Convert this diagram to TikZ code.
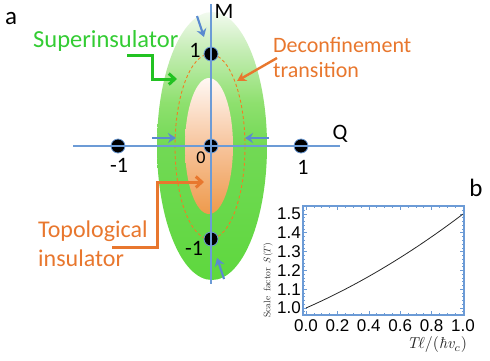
\documentclass[tikz,border=0pt]{standalone}
\usepackage{graphicx}
\usepackage{fontspec}
\setmainfont{Carlito}
\newfontfamily\arialf{Liberation Sans}
\newfontfamily\lmr{Latin Modern Roman}
\usetikzlibrary{arrows.meta,shapes.geometric}
\definecolor{axisblue}{HTML}{6C9BD6}
\definecolor{arrowblue}{HTML}{5A8AD0}
\definecolor{txtgreen}{HTML}{33CC33}
\definecolor{arrgreen}{HTML}{22C222}
\definecolor{myorange}{HTML}{E8772E}
\definecolor{dashorange}{HTML}{F07E22}
\definecolor{gA}{HTML}{F2FAEF}
\definecolor{gB}{HTML}{C6EDB6}
\definecolor{gC}{HTML}{8EE06E}
\definecolor{gD}{HTML}{72D955}
\definecolor{gE}{HTML}{5ED83E}
\definecolor{oA}{HTML}{FFF8F4}
\definecolor{oB}{HTML}{F7C49C}
\definecolor{oC}{HTML}{EE9A4C}
\pgfdeclareverticalshading{greensh}{100bp}{color(0bp)=(gE); color(25bp)=(gE); color(50bp)=(gD); color(58bp)=(gC); color(68bp)=(gB); color(75bp)=(gA); color(100bp)=(gA)}
\pgfdeclareverticalshading{orangesh}{100bp}{color(0bp)=(oC); color(25bp)=(oC); color(50bp)=(oB); color(75bp)=(oA); color(100bp)=(oA)}
\tikzset{
  dot/.style={circle,fill=black,draw=axisblue,line width=0.8pt,minimum size=14pt,inner sep=0pt},
  axisline/.style={draw=axisblue,line width=1.2pt},
  bluearrow/.style={draw=arrowblue,line width=2.2pt,-{Stealth[length=8pt,width=10pt]}},
  bentgreen/.style={draw=arrgreen,line width=3pt,-{Straight Barb[length=6pt,width=11pt]}},
  bentorange/.style={draw=myorange,line width=3pt,-{Straight Barb[length=6pt,width=11pt]}},
  straightorange/.style={draw=myorange,line width=2.4pt,-{Stealth[length=9pt,width=10pt]}},
  numlbl/.style={font=\fontsize{22}{24}\selectfont,inner sep=0pt},
  ticklbl/.style={font=\arialf\fontsize{17}{20}\selectfont,inner sep=0pt},
  frameblue/.style={draw=axisblue,line width=1.1pt}
}
\begin{document}
\begin{tikzpicture}[x=1pt,y=-1pt]
\useasboundingbox (0,0) rectangle (490,360);
% ellipses
\shade[shading=greensh] (212,146) ellipse (55 and 134);
\shade[shading=orangesh] (209,146) ellipse (24 and 68);
\draw[dashorange,line width=0.9pt,dash pattern=on 3pt off 2.5pt] (210,146.5) ellipse (35 and 92.5);
% dots
\node[dot] (p0) at (211,146) {};
\node[dot] (pt) at (211,54) {};
\node[dot] (pb) at (211,239) {};
\node[dot] (pl) at (118,146) {};
\node[dot] (pr) at (301,146) {};
% axes
\coordinate (qa) at (73,146);
\coordinate (qb) at (340,146);
\coordinate (ma) at (211,4);
\coordinate (mb) at (211,284);
\draw[axisline] (qa) -- (qb);
\draw[axisline] (ma) -- (mb);
\node[numlbl] (M) at (224,11) {M};
\node[numlbl] (Q) at (340,134) {Q};
% dot labels
\node[numlbl] (lt) at (195,50) {1};
\node[numlbl,font=\fontsize{18}{20}\selectfont] (l0) at (201,158) {0};
\node[numlbl] (ll) at (119,165) {-1};
\node[numlbl] (lr) at (303,167) {1};
\node[numlbl] (lb) at (194,248) {-1};
% blue arrows
\coordinate (ba1) at (197,16);  \coordinate (ba2) at (204,37);
\coordinate (bb1) at (152,138); \coordinate (bb2) at (176,138);
\coordinate (bc1) at (269,138); \coordinate (bc2) at (245,138);
\coordinate (bd1) at (224,279); \coordinate (bd2) at (217,258);
\draw[bluearrow] (ba1) -- (ba2);
\draw[bluearrow] (bb1) -- (bb2);
\draw[bluearrow] (bc1) -- (bc2);
\draw[bluearrow] (bd1) -- (bd2);
% panel letters
\node[inner sep=0pt,font=\fontsize{25}{27}\selectfont] (pa) at (11,19) {a};
\node[inner sep=0pt,font=\fontsize{25}{27}\selectfont] (pbl) at (476,188) {b};
% Superinsulator
\node[anchor=base west,inner sep=0pt,text=txtgreen,font=\fontsize{24.5}{26}\selectfont] (sup) at (33,47) {Superinsulator};
\coordinate (g1) at (127,55);
\coordinate (g2) at (177,79);
\draw[bentgreen] (g1) -- (152,55) -- (152,79) -- (g2);
% Deconfinement transition
\node[anchor=west,inner sep=0pt,text=myorange,align=left,font=\fontsize{22}{25}\selectfont] (dec) at (273,57) {Deconfinement\\transition};
\coordinate (o1) at (277,58);
\coordinate (o2) at (237,81);
\draw[straightorange] (o1) -- (o2);
% Topological insulator
\node[anchor=west,inner sep=0pt,text=myorange,align=left,font=\fontsize{24}{29}\selectfont] (top) at (38,244) {Topological\\insulator};
\coordinate (t1) at (112,247);
\coordinate (t2) at (204,182);
\draw[bentorange] (t1) -- (157,247) -- (157,182) -- (t2);
% plot panel b
\coordinate (fa) at (303,206);
\coordinate (fb) at (464,315);
\draw[frameblue] (fa) rectangle (fb);
\foreach \i in {0,...,20}{
  \pgfmathsetmacro{\xx}{306+157*\i/20}
  \pgfmathsetmacro{\tl}{ifthenelse(mod(\i,4)==0,4,2)}
  \draw[axisblue,line width=0.6pt] (\xx,315) -- ++(0,-\tl);
  \draw[axisblue,line width=0.6pt] (\xx,206) -- ++(0,\tl);
}
\foreach \i in {0,...,28}{
  \pgfmathsetmacro{\yy}{308-188*(\i*0.02-0.04)}
  \pgfmathsetmacro{\tl}{ifthenelse(mod(\i,5)==2,4,2)}
  \draw[axisblue,line width=0.6pt] (303,\yy) -- ++(\tl,0);
  \draw[axisblue,line width=0.6pt] (464,\yy) -- ++(-\tl,0);
}
\draw[black!85,line width=0.8pt] plot[domain=0:1,samples=60] ({306+157*\x},{308-188*(0.367*\x+0.133*\x*\x)});
\foreach \v/\t in {0/1.0,1/1.1,2/1.2,3/1.3,4/1.4,5/1.5}{
  \node[ticklbl,anchor=east] (yt\v) at (301,{308-18.8*\v}) {\t};
}
\foreach \v/\t in {0/0.0,1/0.2,2/0.4,3/0.6,4/0.8,5/1.0}{
  \node[ticklbl] (xt\v) at ({306+31.4*\v},326) {\t};
}
\node[rotate=90,inner sep=0pt,text=black!85] (ylab) at (268,280) {\resizebox{75pt}{!}{\lmr Scale\, factor\, $S(T)$}};
\node[inner sep=0pt,text=black!85] (xlab) at (437,345) {\resizebox{60pt}{!}{\lmr\itshape T$\ell$\upshape/(\itshape ħv$_c$\upshape)}};
\end{tikzpicture}
\end{document}
